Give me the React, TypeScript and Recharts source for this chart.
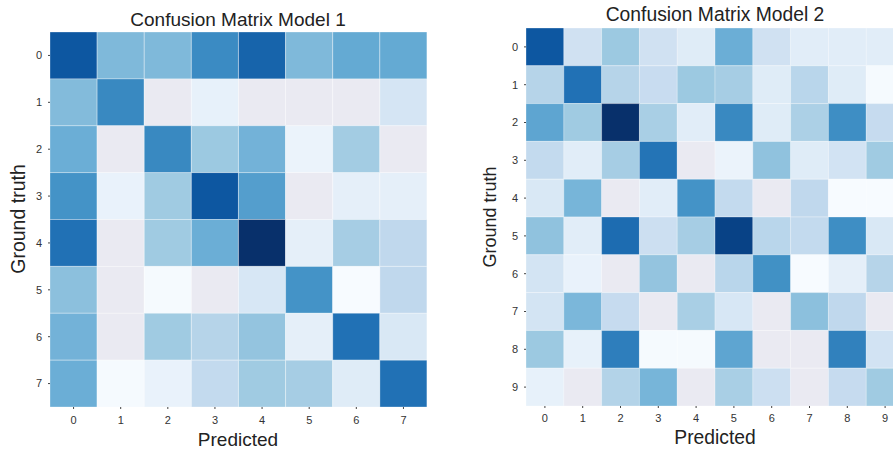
import { BarChart, Bar, Cell, XAxis, YAxis } from "recharts";

// null = empty cell (shows the plot background)
const model1Labels = ["0", "1", "2", "3", "4", "5", "6", "7"];
const model1Values: (number | null)[][] = [
  [0.85, 0.45, 0.45, 0.65, 0.8, 0.45, 0.52, 0.52],
  [0.44, 0.66, null, 0.08, null, null, null, 0.17],
  [0.5, null, 0.66, 0.38, 0.48, 0.06, 0.36, null],
  [0.62, 0.07, 0.37, 0.85, 0.57, null, 0.09, 0.09],
  [0.75, null, 0.37, 0.5, 1.0, 0.09, 0.35, 0.27],
  [0.42, null, 0.01, null, 0.16, 0.62, 0.0, 0.27],
  [0.48, null, 0.37, 0.3, 0.4, 0.09, 0.75, 0.15],
  [0.5, 0.01, 0.07, 0.26, 0.37, 0.35, 0.12, 0.75],
];

const model2Labels = ["0", "1", "2", "3", "4", "5", "6", "7", "8", "9"];
const model2Values: (number | null)[][] = [
  [0.85, 0.2, 0.38, 0.2, 0.12, 0.5, 0.2, 0.11, 0.11, 0.11],
  [0.3, 0.75, 0.3, 0.24, 0.38, 0.35, 0.12, 0.29, 0.12, 0.01],
  [0.54, 0.37, 1.0, 0.34, 0.11, 0.66, 0.12, 0.33, 0.64, 0.25],
  [0.26, 0.11, 0.35, 0.74, null, 0.06, 0.41, 0.12, 0.19, 0.37],
  [0.15, 0.47, null, 0.11, 0.62, 0.26, null, 0.27, 0.0, 0.0],
  [0.41, 0.11, 0.77, 0.22, 0.35, 0.93, 0.29, 0.26, 0.64, 0.15],
  [0.18, 0.07, null, 0.4, null, 0.29, 0.63, 0.0, 0.09, 0.3],
  [0.18, 0.46, 0.25, null, 0.34, 0.16, null, 0.42, 0.27, null],
  [0.38, 0.08, 0.7, 0.01, 0.01, 0.54, null, null, 0.69, 0.19],
  [0.08, null, 0.31, 0.47, null, 0.34, 0.22, null, 0.25, 0.37],
];

const BLUES = ["#f7fbff", "#deebf7", "#c6dbef", "#9ecae1", "#6baed6", "#4292c6", "#2171b5", "#08519c", "#08306b"];
const EMPTY = "#eaeaf2";
const FONT = "'Liberation Sans', Arial, sans-serif";

function blues(v: number | null) {
  if (v === null) return EMPTY;
  const p = Math.max(0, Math.min(1, v)) * (BLUES.length - 1);
  const i = Math.min(Math.floor(p), BLUES.length - 2);
  const t = p - i;
  const a = BLUES[i], b = BLUES[i + 1];
  const ch = (k: number) => {
    const x = parseInt(a.slice(k, k + 2), 16);
    const y = parseInt(b.slice(k, k + 2), 16);
    return Math.round(x + (y - x) * t).toString(16).padStart(2, "0");
  };
  return "#" + ch(1) + ch(3) + ch(5);
}

type HeatProps = {
  labels: string[];
  values: (number | null)[][];
  width: number;
  height: number;
  top: number;
  right: number;
  yAxisWidth: number;
  xAxisHeight: number;
  tickDy: number;
};

function Heatmap({ labels, values, width, height, top, right, yAxisWidth, xAxisHeight, tickDy }: HeatProps) {
  const n = labels.length;
  // one row per predicted class, each ground-truth row stacked as a unit bar
  const data = labels.map((col) => {
    const d: Record<string, string | number> = { col };
    values.forEach((_, r) => (d[`r${r}`] = 1));
    return d;
  });
  const ticks = labels.map((_, i) => i + 0.5);
  const tickStyle = { fontSize: 11, fill: "#333", fontFamily: FONT };

  return (
    <BarChart
      width={width}
      height={height}
      data={data}
      margin={{ top, right, bottom: 0, left: 0 }}
      barCategoryGap={0}
      barGap={0}
    >
      <XAxis
        dataKey="col"
        height={xAxisHeight}
        axisLine={false}
        tickSize={2}
        tickMargin={tickDy}
        stroke="#444"
        tick={tickStyle}
      />
      <XAxis
        xAxisId="top"
        dataKey="col"
        orientation="top"
        height={0}
        axisLine={false}
        tickSize={2}
        stroke="#444"
        tickFormatter={() => ""}
      />
      <YAxis
        type="number"
        domain={[0, n]}
        reversed
        ticks={ticks}
        width={yAxisWidth}
        axisLine={false}
        tickSize={2}
        tickMargin={6}
        stroke="#444"
        tick={tickStyle}
        tickFormatter={(v: number) => String(Math.round(v - 0.5))}
      />
      <YAxis
        yAxisId="right"
        orientation="right"
        type="number"
        domain={[0, n]}
        reversed
        ticks={ticks}
        width={0}
        axisLine={false}
        tickSize={2}
        stroke="#444"
        tickFormatter={() => ""}
      />
      {values.map((row, r) => (
        <Bar
          key={r}
          dataKey={`r${r}`}
          stackId="m"
          isAnimationActive={false}
          stroke="rgba(255,255,255,0.3)"
          strokeWidth={1}
        >
          {row.map((v, c) => (
            <Cell key={c} fill={blues(v)} />
          ))}
        </Bar>
      ))}
    </BarChart>
  );
}

const textBase = {
  position: "absolute" as const,
  fontFamily: FONT,
  color: "#222",
  whiteSpace: "nowrap" as const,
  lineHeight: 1,
};

export default function App() {
  return (
    <div
      style={{
        position: "absolute",
        left: 0,
        top: 0,
        width: 893,
        height: 449,
        overflow: "hidden",
        background: "#fff",
      }}
    >
      {/* Model 1 */}
      <div style={{ position: "absolute", left: 0, top: 0 }}>
        <Heatmap
          labels={model1Labels}
          values={model1Values}
          width={446}
          height={449}
          top={32}
          right={19}
          yAxisWidth={50}
          xAxisHeight={42}
          tickDy={7}
        />
      </div>
      <div style={{ ...textBase, left: 238, top: 19, fontSize: 19, transform: "translate(-50%, -50%)" }}>
        Confusion Matrix Model 1
      </div>
      <div style={{ ...textBase, left: 238, top: 439, fontSize: 19, transform: "translate(-50%, -50%)" }}>
        Predicted
      </div>
      <div
        style={{
          ...textBase,
          left: 19,
          top: 219,
          fontSize: 19.5,
          transform: "translate(-50%, -50%) rotate(-90deg)",
        }}
      >
        Ground truth
      </div>

      {/* Model 2 */}
      <div style={{ position: "absolute", left: 446, top: 0 }}>
        <Heatmap
          labels={model2Labels}
          values={model2Values}
          width={468}
          height={449}
          top={28}
          right={10}
          yAxisWidth={80}
          xAxisHeight={43}
          tickDy={6}
        />
      </div>
      <div style={{ ...textBase, left: 715, top: 15, fontSize: 19.3, transform: "translate(-50%, -50%)" }}>
        Confusion Matrix Model 2
      </div>
      <div style={{ ...textBase, left: 715, top: 438, fontSize: 19.3, transform: "translate(-50%, -50%)" }}>
        Predicted
      </div>
      <div
        style={{
          ...textBase,
          left: 490,
          top: 217,
          fontSize: 18,
          transform: "translate(-50%, -50%) rotate(-90deg)",
        }}
      >
        Ground truth
      </div>
    </div>
  );
}
